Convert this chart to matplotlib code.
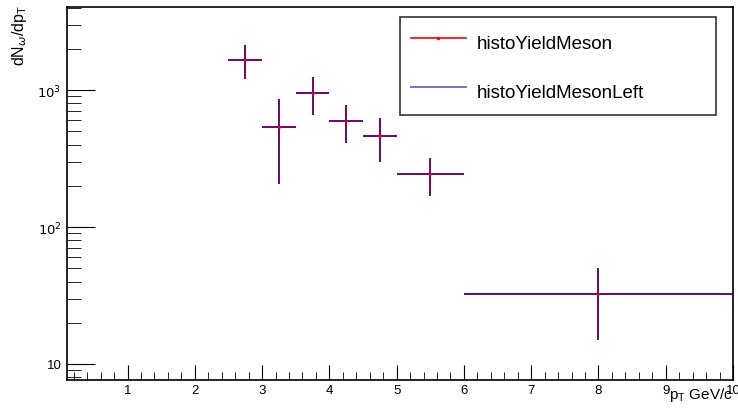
import numpy as np
import matplotlib.pyplot as plt
from matplotlib.lines import Line2D
from matplotlib.ticker import FixedLocator, MultipleLocator, NullFormatter

plt.rcParams['font.family'] = ['Liberation Sans', 'DejaVu Sans']

# bins (GeV/c) and yields
bin_lo = [2.5, 3.0, 3.5, 4.0, 4.5, 5.0, 6.0]
bin_hi = [3.0, 3.5, 4.0, 4.5, 5.0, 6.0, 10.0]
yield_meson = [1656, 537, 951, 594, 461, 244, 32.4]
yield_err = [460, 330, 295, 180, 163, 75, 17.5]
yield_left = [1656, 537, 951, 594, 461, 244, 32.4]
left_err = [460, 330, 295, 180, 163, 75, 17.5]

lo = np.array(bin_lo)
hi = np.array(bin_hi)
xc = (lo + hi) / 2
xw = (hi - lo) / 2

red = '#ff0000'
blue = '#1010c0'

fig = plt.figure(figsize=(7.38, 4.10), dpi=100)
ax = fig.add_axes([67 / 738, 1 - 381 / 410, 666 / 738, 373 / 410])

ax.errorbar(xc, yield_meson, xerr=xw, yerr=yield_err, fmt='.', color=red,
            ms=2, lw=1.4, capsize=0)
ax.errorbar(xc, yield_left, xerr=xw, yerr=left_err, fmt='none', ecolor=blue,
            lw=1.2, capsize=0, alpha=0.72)

ax.set_yscale('log')
ax.set_xlim(0.1, 10)
ax.set_ylim(7.64, 4040)

ax.xaxis.set_major_locator(MultipleLocator(1))
ax.xaxis.set_minor_locator(MultipleLocator(0.2))
ax.yaxis.set_major_locator(FixedLocator([10, 100, 1000]))
ax.yaxis.set_minor_locator(FixedLocator([8, 9] + [m * 10 for m in range(2, 10)]
                                        + [m * 100 for m in range(2, 10)] + [2000, 3000, 4000]))
ax.yaxis.set_minor_formatter(NullFormatter())
ax.set_yticklabels(['10', '$10^{2}$', '$10^{3}$'])
ax.set_xticks(range(1, 11))
ax.set_xticklabels([str(i) for i in range(1, 11)])

ax.tick_params(which='both', direction='in', top=False, right=False, labelsize=9.5, color='black')
ax.tick_params(axis='x', which='major', length=11, pad=3)
ax.tick_params(axis='x', which='minor', length=6)
ax.tick_params(axis='y', which='major', length=20, pad=4)
ax.tick_params(axis='y', which='minor', length=10)
for s in ax.spines.values():
    s.set_linewidth(1.2)

fig.text(0.026, 0.988, r'dN$_{\omega}$/dp$_{\mathregular{T}}$', rotation=90, ha='center', va='top', fontsize=11.5)
fig.text(0.993, 0.015, r'p$_{\mathregular{T}}$ GeV/c', ha='right', va='bottom', fontsize=11)

handles = [Line2D([], [], color=red, lw=1.2, marker='.', ms=3),
           Line2D([], [], color=blue, lw=1.4, alpha=0.6)]
leg = ax.legend(handles, ['histoYieldMeson', 'histoYieldMesonLeft'], loc='upper left',
                bbox_to_anchor=(400 / 738, 1 - 115 / 410, 316 / 738, 97 / 410),
                bbox_transform=fig.transFigure, mode='expand', fontsize=13.5,
                frameon=True, fancybox=False, borderpad=0.6, labelspacing=1.15,
                handlelength=2.9, handleheight=1.85, handletextpad=0.6, borderaxespad=0)
leg.get_frame().set_edgecolor('black')
leg.get_frame().set_linewidth(1.2)

plt.savefig('out.png', dpi=100)
